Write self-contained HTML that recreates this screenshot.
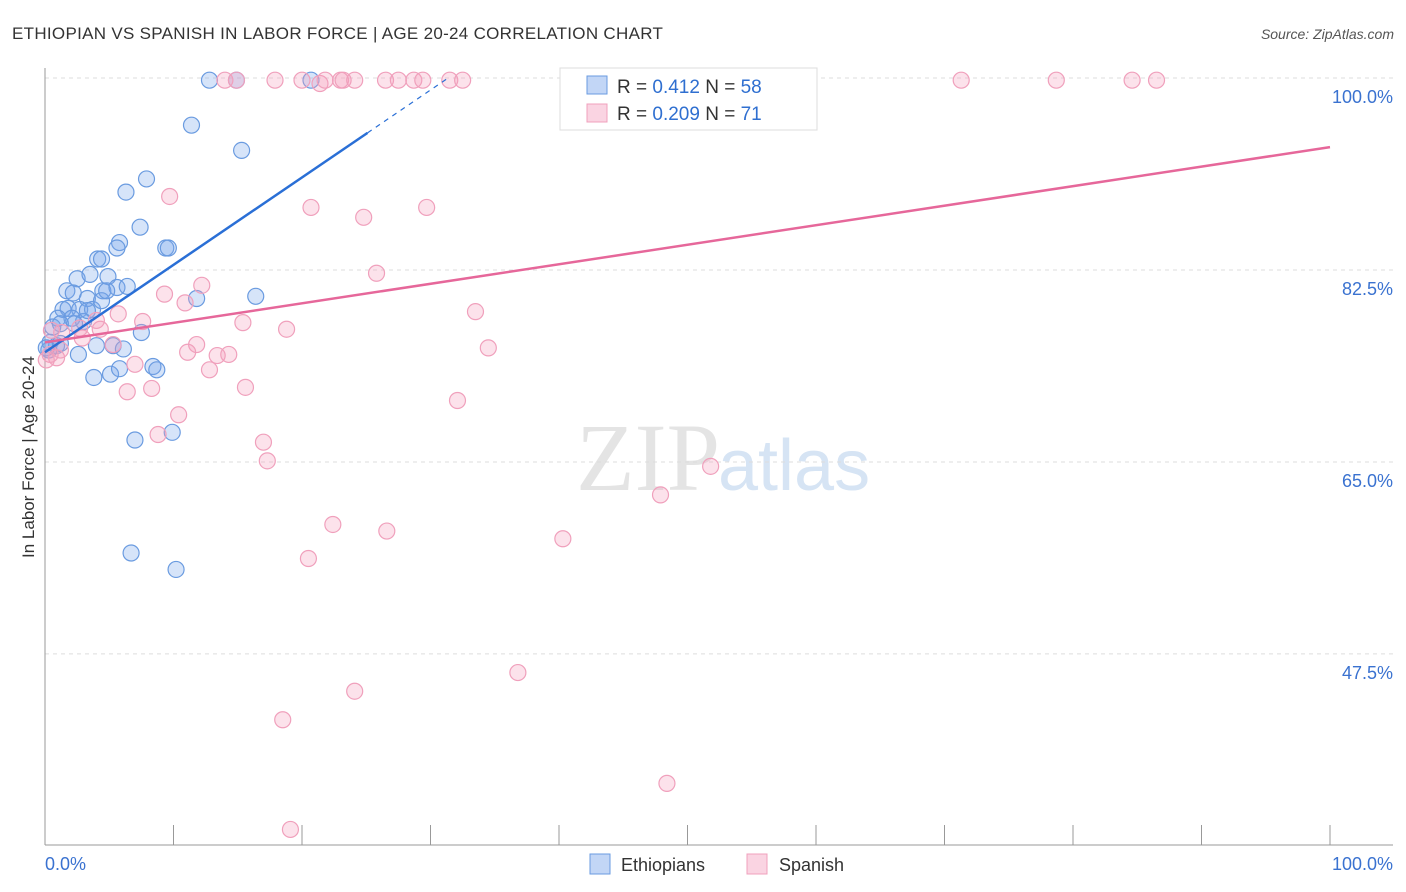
<!DOCTYPE html>
<html><head><meta charset="utf-8"><style>
body{margin:0;background:#fff;font-family:"Liberation Sans",sans-serif;}
svg{display:block}
</style></head><body>
<svg id="chart" width="1406" height="892" xmlns="http://www.w3.org/2000/svg">
<text x="12" y="39" font-size="17" fill="#333" letter-spacing="0.3">ETHIOPIAN VS SPANISH IN LABOR FORCE | AGE 20-24 CORRELATION CHART</text>
<text x="1394" y="39" font-size="14" fill="#555" font-style="italic" text-anchor="end">Source: ZipAtlas.com</text>
<text x="720" y="490" font-size="96" fill="#e4e4e4" text-anchor="end" font-family="Liberation Serif,serif">ZIP</text>
<text x="718" y="490" font-size="72" fill="#d6e4f4">atlas</text>
<g id="grid"></g>
<g id="axes"></g>
<g id="pts"></g>
<g id="trend"></g>
<text transform="translate(34,457) rotate(-90)" font-size="17" fill="#333" text-anchor="middle">In Labor Force | Age 20-24</text>
<g>
<rect x="560" y="68" width="257" height="62" fill="#fff" stroke="#ddd"/>
<rect x="587" y="76" width="20" height="18" fill="rgba(120,165,235,0.45)" stroke="#6a9be0"/>
<rect x="587" y="104" width="20" height="18" fill="rgba(245,160,190,0.45)" stroke="#f0a0bc"/>
<text x="617" y="93" font-size="19" fill="#333">R = <tspan fill="#2f6fd0">0.412</tspan>   N = <tspan fill="#2f6fd0">58</tspan></text>
<text x="617" y="120" font-size="19" fill="#333">R = <tspan fill="#2f6fd0">0.209</tspan>   N = <tspan fill="#2f6fd0"> 71</tspan></text>
</g>
<g>
<rect x="590" y="854" width="20" height="20" fill="rgba(120,165,235,0.45)" stroke="#6a9be0"/>
<text x="621" y="871" font-size="18" fill="#333">Ethiopians</text>
<rect x="747" y="854" width="20" height="20" fill="rgba(245,160,190,0.45)" stroke="#f0a0bc"/>
<text x="779" y="871" font-size="18" fill="#333">Spanish</text>
</g>
</svg>
<script>
const yTicks=[100,82.5,65,47.5];
const yTickLabels=["100.0%","82.5%","65.0%","47.5%"];
const xTickLabels=["0.0%","100.0%"];
const ethX=[12.8,14.9,20.7,11.4,15.3,7.9,6.3,7.4,5.8,5.6,9.4,9.6,4.1,4.4,2.5,3.5,4.9,1.7,2.2,3.3,4.5,5.6,6.4,11.8,16.4,1.4,1.8,2.7,3.7,1.0,2.1,3.0,0.6,1.2,0.4,0.9,0.3,2.6,4.0,5.3,6.1,7.5,3.8,5.1,5.8,8.4,8.7,7.0,9.9,6.7,10.2,0.1,1.2,4.4,4.8,3.3,2.3];
const ethY=[99.8,99.8,99.8,95.7,93.4,90.8,89.6,86.4,85.0,84.5,84.5,84.5,83.5,83.5,81.7,82.1,81.9,80.6,80.4,79.9,80.6,80.9,81.0,79.9,80.1,78.9,79.0,78.9,78.9,78.1,78.1,77.8,77.3,77.6,75.9,75.6,75.2,74.8,75.6,75.6,75.3,76.8,72.7,73.0,73.5,73.7,73.4,67.0,67.7,56.7,55.2,75.4,75.8,79.7,80.6,78.8,77.6];
const spaX=[14.0,14.9,17.9,20.0,21.4,21.8,23.0,23.2,24.1,26.5,27.5,28.7,29.4,31.5,32.5,41.9,46.5,71.3,78.7,84.6,86.5,9.7,20.7,24.8,29.7,25.8,12.2,9.3,10.9,33.5,5.7,7.6,4.0,15.4,18.8,2.7,4.3,1.3,0.5,2.9,5.3,11.8,11.1,13.4,14.3,34.5,7.0,12.8,15.6,6.4,8.3,32.1,10.4,8.8,17.0,17.3,51.8,47.9,22.4,26.6,40.3,20.5,36.8,24.1,18.5,48.4,19.1,0.9,0.4,1.2,0.1];
const spaY=[99.8,99.8,99.8,99.8,99.5,99.8,99.8,99.8,99.8,99.8,99.8,99.8,99.8,99.8,99.8,99.8,99.8,99.8,99.8,99.8,99.8,89.2,88.2,87.3,88.2,82.2,81.1,80.3,79.5,78.7,78.5,77.8,77.9,77.7,77.1,77.2,77.1,76.8,77.0,76.3,75.7,75.7,75.0,74.7,74.8,75.4,73.9,73.4,71.8,71.4,71.7,70.6,69.3,67.5,66.8,65.1,64.6,62.0,59.3,58.7,58.0,56.2,45.8,44.1,41.5,35.7,31.5,74.5,74.8,75.2,74.3];
const ethTrend=[75.0,95.0,25.1];   // intercept, value at solid end, solid end x
const spaTrend=[75.9,93.7];        // value at x=0, x=100

const NS="http://www.w3.org/2000/svg";
const X=v=>45+v*12.85, Y=v=>78+(100-v)*10.97;
function mk(tag,attrs,parent){const e=document.createElementNS(NS,tag);for(const k in attrs)e.setAttribute(k,attrs[k]);document.getElementById(parent).appendChild(e);return e;}

yTicks.forEach((t,i)=>{
 const l=mk('line',{x1:45,x2:1393,y1:Y(t),y2:Y(t),stroke:'#ddd','stroke-dasharray':'4,4'},'grid');
 
 
 const tx=mk('text',{x:1393,y:Y(t)+25,'font-size':18,fill:'#3a72d0','text-anchor':'end'},'grid');
 tx.textContent=yTickLabels[i];
 
 
});
let a=mk('line',{x1:45,x2:45,y1:68,y2:845,stroke:'#999'},'axes');


a=mk('line',{x1:45,x2:1393,y1:845,y2:845,stroke:'#999'},'axes');


for(let i=1;i<=10;i++){
 const t=mk('line',{x1:X(i*10),x2:X(i*10),y1:825,y2:845,stroke:'#999'},'axes');
 
 
}
[[0,'start',45],[100,'end',1393]].forEach((d,i)=>{
 const t=mk('text',{x:d[2],y:870,'font-size':18,fill:'#3a72d0','text-anchor':d[1]},'axes');
 t.textContent=xTickLabels[i];
 
 
});
ethX.forEach((v,i)=>{
 const c=mk('circle',{cx:X(v),cy:Y(ethY[i]),r:8,fill:'rgba(120,165,235,0.3)',stroke:'#6a9be0','stroke-width':1.2},'pts');
 
 
});
spaX.forEach((v,i)=>{
 const c=mk('circle',{cx:X(v),cy:Y(spaY[i]),r:8,fill:'rgba(245,160,190,0.3)',stroke:'#f0a0bc','stroke-width':1.2},'pts');
 
 
});
const slope=(ethTrend[1]-ethTrend[0])/ethTrend[2];
let tl=mk('line',{x1:X(0),y1:Y(ethTrend[0]),x2:X(ethTrend[2]),y2:Y(ethTrend[1]),stroke:'#2a6fd6','stroke-width':2.5},'trend');


const xe=(100-ethTrend[0])/slope;
tl=mk('line',{x1:X(ethTrend[2]),y1:Y(ethTrend[1]),x2:X(xe),y2:Y(100),stroke:'#2a6fd6','stroke-width':1.2,'stroke-dasharray':'5,5'},'trend');


tl=mk('line',{x1:X(0),y1:Y(spaTrend[0]),x2:X(100),y2:Y(spaTrend[1]),stroke:'#e6679a','stroke-width':2.5},'trend');


</script>
</body></html>
